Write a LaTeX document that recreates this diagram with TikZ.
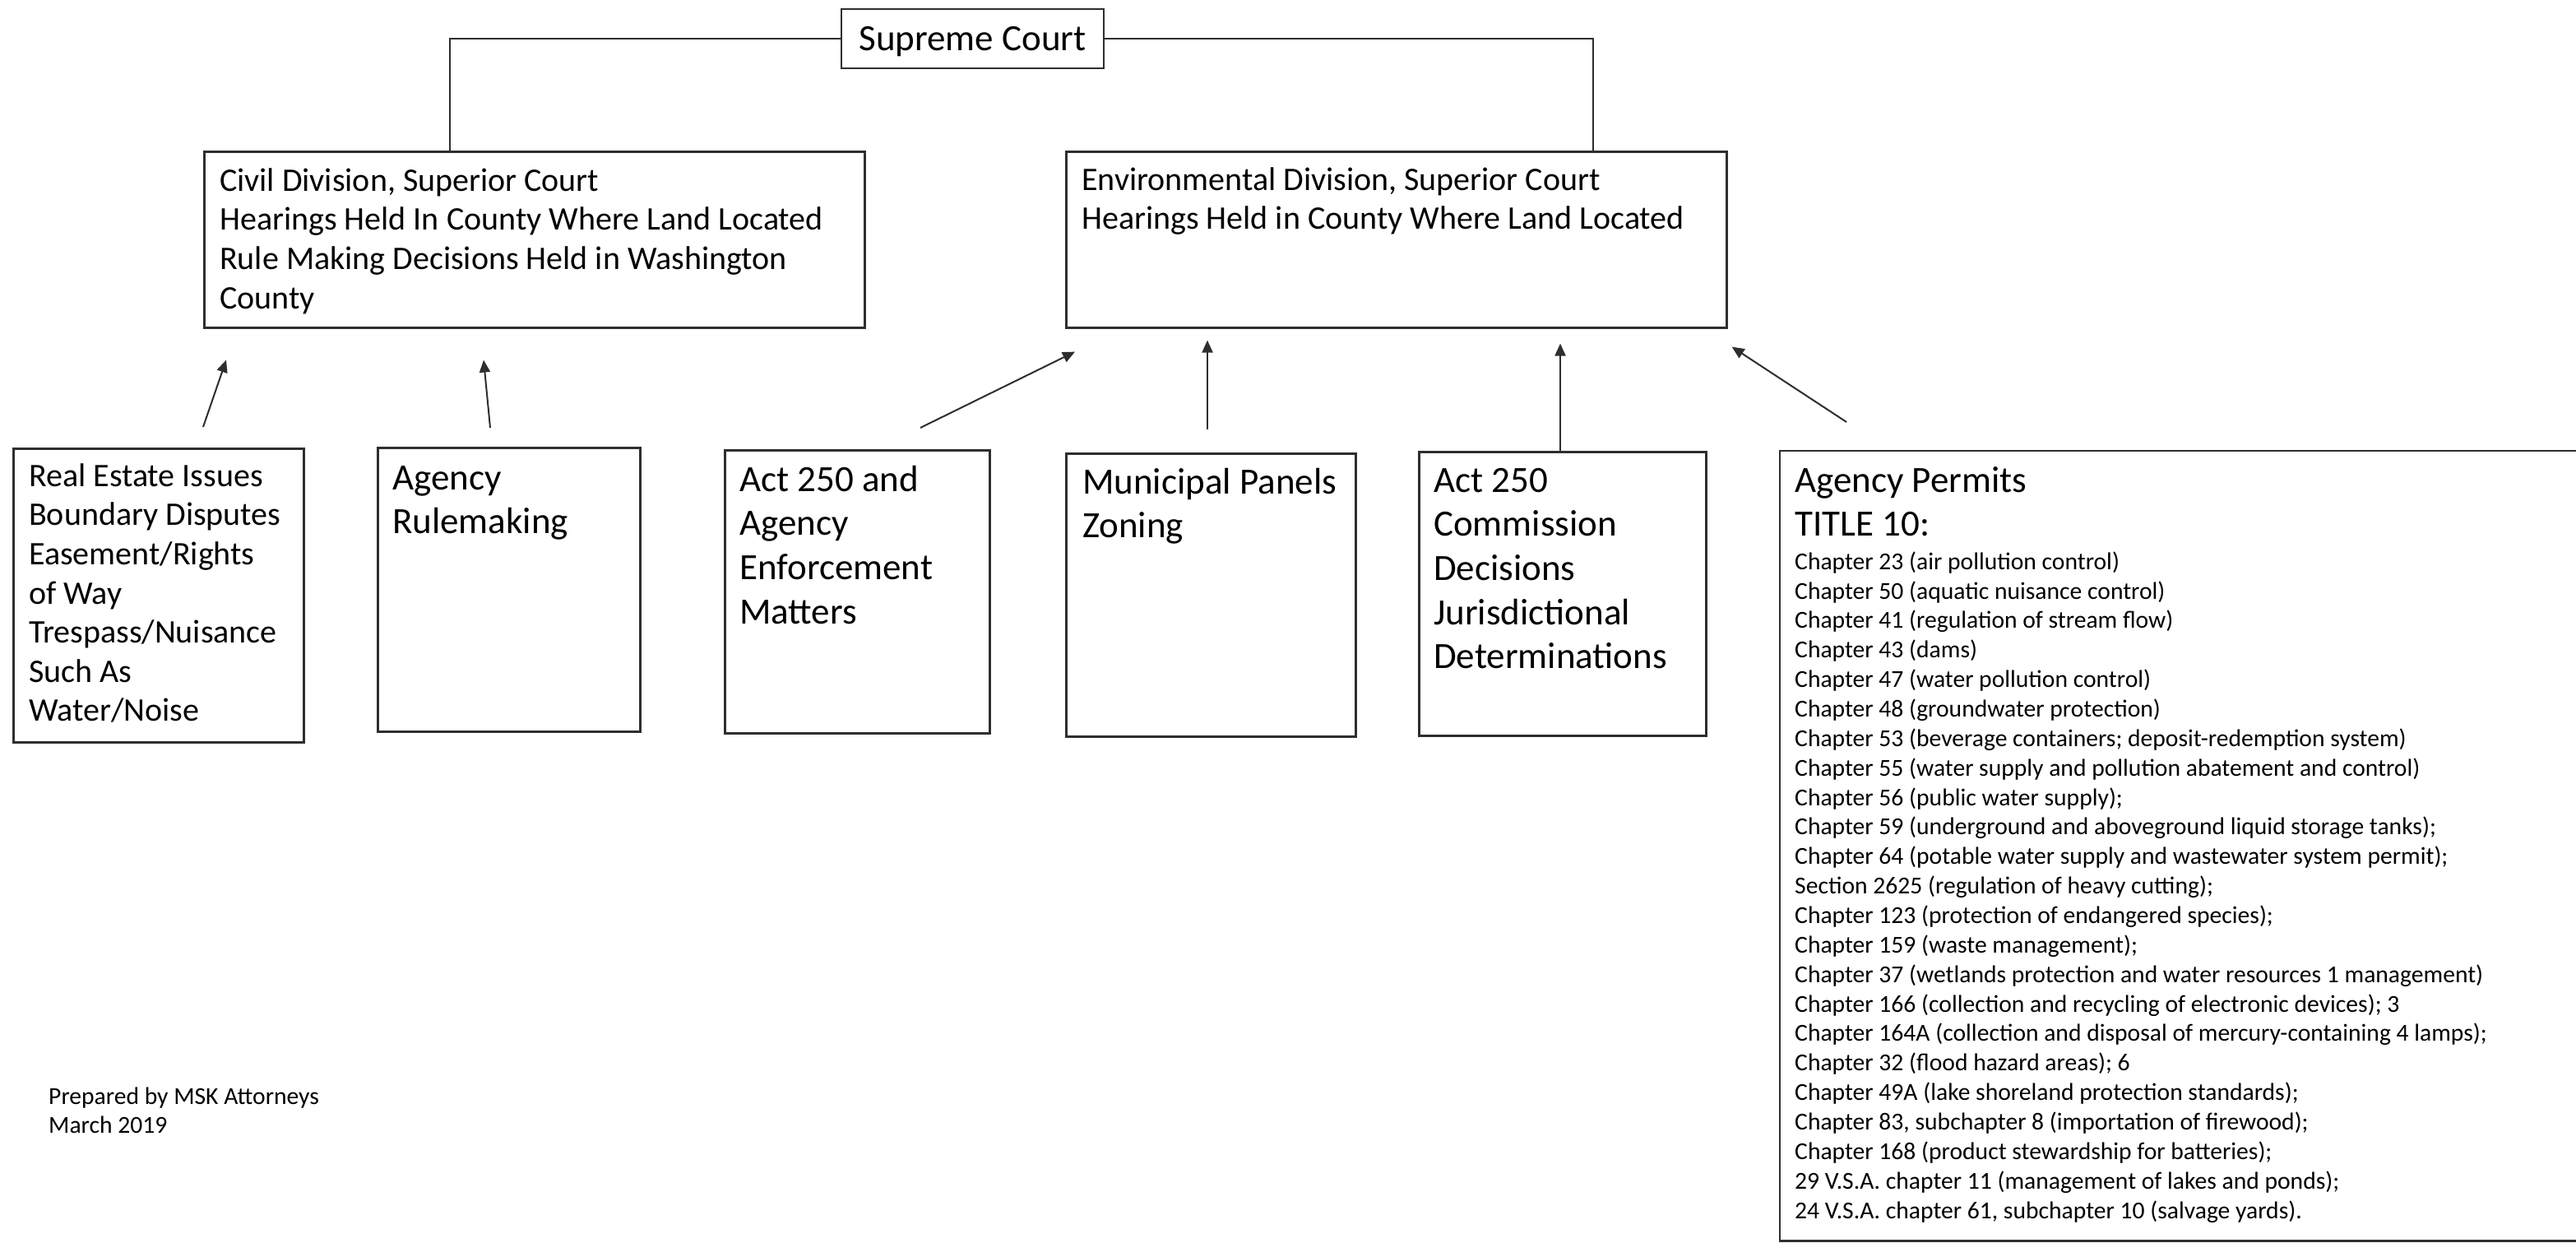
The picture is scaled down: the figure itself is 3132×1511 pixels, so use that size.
\documentclass[tikz,border=0pt]{standalone}
\usepackage{fontspec}
\setmainfont{Carlito}
\usetikzlibrary{arrows.meta}
\definecolor{linec}{HTML}{2E2E2E}
\newcommand\fontbig{\fontsize{45bp}{53.6bp}\selectfont}
\newcommand\fontmid{\fontsize{40bp}{47.6bp}\selectfont}
\newcommand\fontsmall{\fontsize{29.6bp}{35.86bp}\selectfont}
\begin{document}
\begin{tikzpicture}[x=1bp,y=-1bp,
  box/.style={draw=linec, line width=2.6bp, inner sep=0pt, anchor=north west},
  ghost/.style={draw=none, inner sep=0pt, anchor=north west},
  boxline/.style={draw=linec, line width=2.6bp},
  txt/.style={inner sep=0pt, anchor=north west, align=left, text=black},
  link/.style={draw=linec, line width=2bp},
  arr/.style={draw=linec, line width=2bp, -{Triangle[length=15bp,width=13bp]}}]
\useasboundingbox[fill=white] (0,0) rectangle (3132,1511);

% top box
\node[draw=linec, line width=2.6bp, minimum width=319bp, minimum height=72bp,
      inner sep=0pt, font=\fontbig, text height=32bp, text depth=2bp] (sc) at (1182.5,47) {Supreme Court};

% division boxes
\node[box, minimum width=803bp, minimum height=214bp] (civ) at (247,183) {};
\node[box, minimum width=803bp, minimum height=214bp] (env) at (1295,183) {};
\node[txt, font=\fontmid] (civt) at (267,198.7) {\strut Civil Division, Superior Court\\Hearings Held In County Where Land Located\\Rule Making Decisions Held in Washington\\County};
\node[txt, font=\fontmid] (envt) at (1315,197.7) {\strut Environmental Division, Superior Court\\Hearings Held in County Where Land Located};

% lower boxes
\node[box, minimum width=353bp, minimum height=357bp] (re) at (15,544) {};
\node[box, minimum width=319bp, minimum height=345bp] (ar) at (458,543) {};
\node[box, minimum width=322bp, minimum height=344bp] (act) at (880,546) {};
\node[box, minimum width=352bp, minimum height=344bp] (mun) at (1295,550) {};
\node[box, minimum width=349bp, minimum height=345bp] (com) at (1724,548) {};
\node[ghost, minimum width=968bp, minimum height=960bp] (perm) at (2164,548) {};
\draw[boxline] (perm.north east) -- (perm.north west) -- (perm.south west) -- (perm.south east);

\node[txt, font=\fontmid] (ret) at (35,557.7) {\strut Real Estate Issues\\Boundary Disputes\\Easement/Rights\\of Way\\Trespass/Nuisance\\Such As\\Water/Noise};
\node[txt, font=\fontbig] (art) at (477,557.5) {\strut Agency\\Rulemaking};
\node[txt, font=\fontbig] (actt) at (899,559.5) {\strut Act 250 and\\Agency\\Enforcement\\Matters};
\node[txt, font=\fontbig] (munt) at (1316,562.5) {\strut Municipal Panels\\Zoning};
\node[txt, font=\fontbig] (comt) at (1743,560.5) {\strut Act 250\\Commission\\Decisions\\Jurisdictional\\Determinations};
\node[txt, font=\fontbig] (permh) at (2182,560.5) {\strut Agency Permits\\TITLE 10:};
\node[txt, font=\fontsmall] (perml) at (2182,666.9) {\strut Chapter 23 (air pollution control)\\
Chapter 50 (aquatic nuisance control)\\
Chapter 41 (regulation of stream flow)\\
Chapter 43 (dams)\\
Chapter 47 (water pollution control)\\
Chapter 48 (groundwater protection)\\
Chapter 53 (beverage containers; deposit-redemption system)\\
Chapter 55 (water supply and pollution abatement and control)\\
Chapter 56 (public water supply);\\
Chapter 59 (underground and aboveground liquid storage tanks);\\
Chapter 64 (potable water supply and wastewater system permit);\\
Section 2625 (regulation of heavy cutting);\\
Chapter 123 (protection of endangered species);\\
Chapter 159 (waste management);\\
Chapter 37 (wetlands protection and water resources 1 management)\\
Chapter 166 (collection and recycling of electronic devices); 3\\
Chapter 164A (collection and disposal of mercury-containing 4 lamps);\\
Chapter 32 (flood hazard areas); 6\\
Chapter 49A (lake shoreland protection standards);\\
Chapter 83, subchapter 8 (importation of firewood);\\
Chapter 168 (product stewardship for batteries);\\
29 V.S.A. chapter 11 (management of lakes and ponds);\\
24 V.S.A. chapter 61, subchapter 10 (salvage yards).};

\node[txt, font=\fontsmall] (foot) at (59,1316.8) {\strut Prepared by MSK Attorneys\\March 2019};

% connectors from Supreme Court
\draw[link] (sc.west) -| ([xshift=300bp]civ.north west);
\draw[link] (sc.east) -| ([xshift=642bp]env.north west);

% arrows up to divisions
\draw[arr] ([shift={(232,-25)}]re.north west) -- ([shift={(28,38)}]civ.south west);
\draw[arr] ([shift={(138,-23)}]ar.north west) -- ([shift={(341,38)}]civ.south west);
\draw[arr] ([shift={(239,-26)}]act.north west) -- ([shift={(12,28)}]env.south west);
\draw[arr] ([shift={(173,-28)}]mun.north west) -- ([shift={(173,14)}]env.south west);
\draw[arr] ([shift={(173,0)}]com.north west) -- ([shift={(602,18)}]env.south west);
\draw[arr] ([shift={(81,-35)}]perm.north west) -- ([shift={(5,22)}]env.south east);
\end{tikzpicture}
\end{document}
